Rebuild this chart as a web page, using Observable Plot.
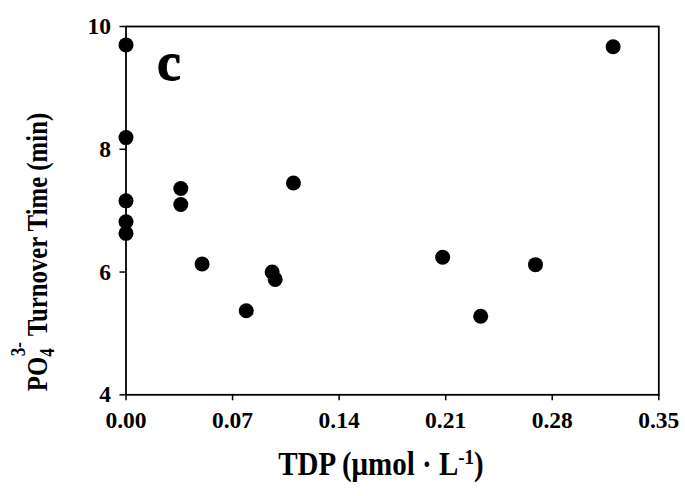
<!DOCTYPE html>
<html><head><meta charset="utf-8">
<script src="https://cdn.jsdelivr.net/npm/d3@7"></script>
<script src="https://cdn.jsdelivr.net/npm/@observablehq/plot@0.6"></script>
<style>
html,body{margin:0;padding:0;background:#fff;}
#chart svg{display:block;}
</style>
</head><body><div id="chart"></div>
<script>
const tdp      = [0, 0, 0, 0, 0, 0.036, 0.036, 0.050, 0.079, 0.096, 0.098, 0.110, 0.208, 0.233, 0.269, 0.320];
const turnover = [9.70, 8.19, 7.16, 6.82, 6.63, 7.36, 7.10, 6.13, 5.37, 6.00, 5.88, 7.45, 6.24, 5.28, 6.12, 9.67];
const xTicks = [0, 0.07, 0.14, 0.21, 0.28, 0.35];
const yTicks = [4, 6, 8, 10];
const panelLabel = "c";

const data = tdp.map((x, i) => ({x, y: turnover[i]}));
const font = "'Liberation Serif', 'Times New Roman', serif";

const chart = Plot.plot({
  width: 685,
  height: 496,
  marginLeft: 125.5,
  marginRight: 26.7,
  marginTop: 26,
  marginBottom: 101.7,
  style: {fontFamily: font, fontWeight: "bold", fontSize: "23px", color: "#000", background: "#fff"},
  x: {domain: [0, 0.35], ticks: xTicks, tickFormat: d3.format(".2f"), label: null},
  y: {domain: [4, 10], ticks: yTicks, tickFormat: d3.format("d"), label: null},
  marks: [
    Plot.frame({stroke: "#000", strokeWidth: 1.8}),
    Plot.axisX({ticks: xTicks, tickFormat: d3.format(".2f"), tickSize: 6, tickPadding: 11, label: null, strokeWidth: 1.5, fontSize: 23.5}),
    Plot.axisY({ticks: yTicks, tickFormat: d3.format("d"), tickSize: 6, tickPadding: 9, label: null, strokeWidth: 1.5, fontSize: 23.5}),
    Plot.dot(data, {x: "x", y: "y", r: 7.5, fill: "#000", stroke: "none"}),
    Plot.text([panelLabel], {frameAnchor: "top-left", text: d => d, dx: 31, dy: 53, fontSize: 54, fontWeight: "bold", textAnchor: "start", lineAnchor: "bottom", fill: "#000", stroke: "#000", strokeWidth: 0.8})
  ]
});
document.getElementById("chart").appendChild(chart);

const svg = d3.select(chart);
// x axis title
const xt = svg.append("text")
  .attr("transform", "translate(381,475) scale(1,1.15)")
  .attr("text-anchor", "middle")
  .style("font-family", font).style("font-weight", "bold").style("font-size", "29px").attr("fill", "#000");
xt.append("tspan").text("TDP (\u03bcmol \u00b7 L");
xt.append("tspan").attr("dy", -10).style("font-size", "19px").text("-1");
xt.append("tspan").attr("dy", 10).text(")");

// y axis title
const yt = svg.append("text")
  .attr("transform", "translate(47,252) rotate(-90) scale(1,1.2)")
  .attr("text-anchor", "middle")
  .style("font-family", font).style("font-weight", "bold").style("font-size", "24.8px").attr("fill", "#000");
yt.append("tspan").text("PO");
yt.append("tspan").attr("dy", 6).style("font-size", "17px").text("4");
yt.append("tspan").attr("dx", -8).attr("dy", -24).style("font-size", "17px").text("3-");
yt.append("tspan").attr("dy", 18).text(" Turnover Time (min)");
</script>
</body></html>
